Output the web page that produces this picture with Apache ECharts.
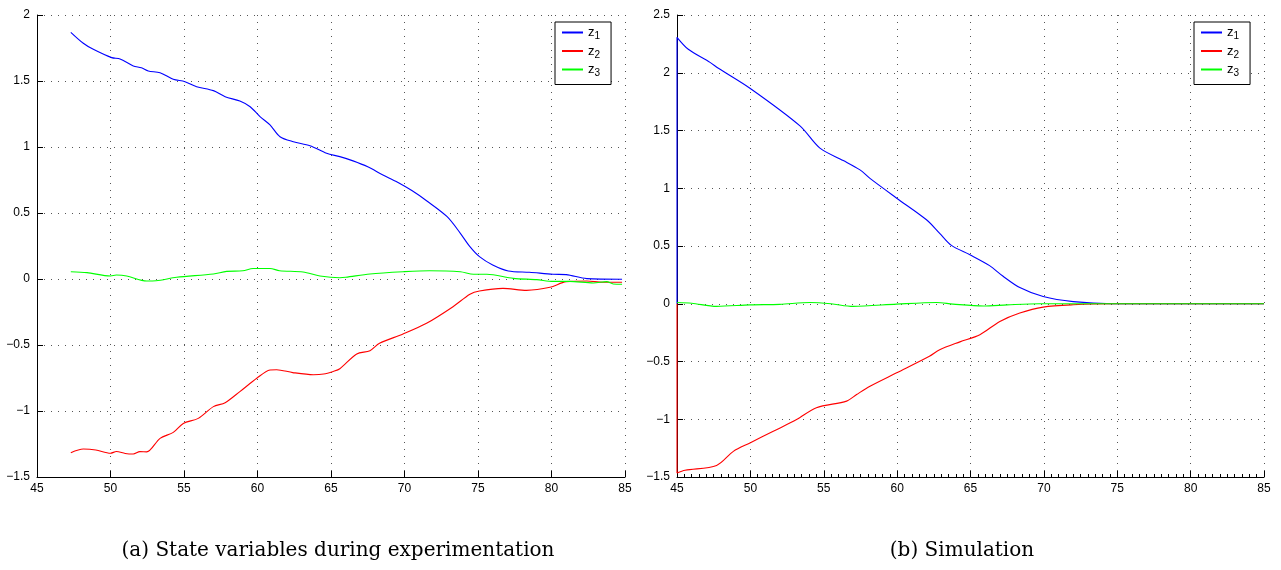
<!DOCTYPE html>
<html>
<head>
<meta charset="utf-8">
<script src="https://cdn.jsdelivr.net/npm/echarts@6/dist/echarts.min.js"></script>
<style>
  html, body { margin: 0; padding: 0; background: #fff; }
  #chart { width: 1281px; height: 570px; }
</style>
</head>
<body>
<div id="chart"></div>
<script>
// (a) experiment
var expT1 = [47.3, 48.15, 48.83, 50.08, 50.65, 51.55, 52.1, 52.57, 53.37, 54.27, 55.07, 55.86, 57.0, 57.8, 58.8, 59.5, 60.17, 60.85, 61.53, 62.44, 63.57, 64.7, 65.6, 66.5, 67.5, 68.5, 69.5, 70.5, 71.5, 72.9, 73.8, 74.45, 75.1, 76.0, 77.06, 78.5, 80.1, 81.0, 82.4, 84.8];
var expZ1 = [1.869, 1.786, 1.74, 1.677, 1.667, 1.614, 1.60, 1.576, 1.563, 1.513, 1.495, 1.457, 1.427, 1.381, 1.348, 1.305, 1.23, 1.167, 1.078, 1.04, 1.01, 0.952, 0.927, 0.895, 0.85, 0.79, 0.735, 0.67, 0.593, 0.472, 0.346, 0.245, 0.169, 0.106, 0.061, 0.051, 0.036, 0.033, 0.003, -0.002];

var expT2 = [47.3, 48.15, 49.0, 50.0, 50.4, 51.0, 51.55, 52.0, 52.46, 53.37, 54.27, 54.95, 55.97, 57.0, 57.8, 58.8, 59.95, 60.85, 61.3, 62.4, 63.8, 64.5, 65.15, 65.6, 66.75, 67.65, 68.3, 69.9, 71.5, 73.3, 74.45, 75.1, 76.7, 78.3, 79.9, 81.0, 82.4, 83.5, 84.8];
var expZ2 = [-1.316, -1.288, -1.295, -1.32, -1.307, -1.322, -1.326, -1.308, -1.31, -1.207, -1.162, -1.094, -1.056, -0.967, -0.937, -0.853, -0.752, -0.689, -0.687, -0.709, -0.725, -0.72, -0.70, -0.68, -0.568, -0.543, -0.487, -0.417, -0.336, -0.21, -0.116, -0.091, -0.071, -0.086, -0.063, -0.02, -0.015, -0.025, -0.025];

var expT3 = [47.3, 48.4, 50.0, 50.4, 51.1, 52.46, 53.1, 54.5, 57.0, 57.9, 59.0, 59.7, 60.85, 61.5, 63.1, 64.25, 65.6, 66.0, 67.65, 69.9, 71.7, 73.8, 74.7, 75.6, 77.4, 79.0, 80.1, 81.2, 82.85, 83.75, 84.2, 84.8];
var expZ3 = [0.055, 0.048, 0.023, 0.03, 0.023, -0.015, -0.013, 0.013, 0.038, 0.058, 0.062, 0.08, 0.08, 0.063, 0.053, 0.023, 0.01, 0.013, 0.038, 0.055, 0.063, 0.055, 0.036, 0.036, 0.005, -0.005, -0.018, -0.018, -0.03, -0.02, -0.038, -0.04];

// (b) simulation
var simT1 = [45, 45, 45.77, 47.25, 47.82, 49.97, 53.38, 54.74, 56.33, 57.47, 58.15, 59.97, 62.0, 62.9, 63.7, 64.96, 66.3, 67.2, 68.36, 69.95, 72.0, 74.7, 85];
var simZ1 = [0, 2.307, 2.203, 2.09, 2.039, 1.866, 1.54, 1.347, 1.24, 1.159, 1.085, 0.914, 0.727, 0.61, 0.505, 0.424, 0.33, 0.24, 0.14, 0.062, 0.018, 0.0, 0.0];

var simT2 = [45, 45, 45.55, 47.7, 48.84, 49.97, 51.56, 53.15, 54.5, 56.56, 57.24, 58.15, 59.97, 62.2, 62.9, 64.28, 65.64, 67.0, 68.36, 69.95, 72.0, 74.7, 85];
var simZ2 = [0, -1.465, -1.442, -1.40, -1.278, -1.205, -1.104, -1.003, -0.90, -0.843, -0.786, -0.714, -0.598, -0.455, -0.398, -0.33, -0.268, -0.153, -0.08, -0.029, -0.009, 0, 0];

var simT3 = [45, 46, 47.7, 49.97, 52, 54.06, 55.5, 57.0, 59.97, 62.7, 63.8, 65.87, 67.5, 69.7, 85];
var simZ3 = [0.011, 0.005, -0.023, -0.01, -0.005, 0.011, 0.0, -0.023, -0.003, 0.011, -0.003, -0.02, -0.01, 0, 0];

var names = ["z1", "z2", "z3"];
var colors = ["#0000ff", "#ff0000", "#00ff00"];

function zip(xs, ys) {
  return xs.map(function (x, i) { return [x, ys[i]]; });
}
function minus(v) {
  return String(v).replace("-", "\u2212");
}

var tickFont = { color: "#000", fontSize: 12, fontFamily: "Liberation Sans, Arial, sans-serif" };
var dotted = { show: true, lineStyle: { type: [1, 6], color: "#555", width: 1 } };

function xAx(idx, minor) {
  return {
    type: "value", gridIndex: idx, min: 45, max: 85, interval: 5,
    axisLine: { show: true, onZero: false, lineStyle: { color: "#000", width: 1 } },
    axisTick: { show: true, inside: true, length: 6, lineStyle: { color: "#000" } },
    minorTick: { show: minor, splitNumber: 10, length: 3, lineStyle: { color: "#000" } },
    axisLabel: Object.assign({ margin: 6, formatter: minus }, tickFont),
    splitLine: dotted
  };
}
function yAx(idx, min, max) {
  return {
    type: "value", gridIndex: idx, min: min, max: max, interval: 0.5,
    axisLine: { show: true, onZero: false, lineStyle: { color: "#000", width: 1 } },
    axisTick: { show: true, inside: true, length: 6, lineStyle: { color: "#000" } },
    axisLabel: Object.assign({ margin: 7, formatter: minus }, tickFont),
    splitLine: dotted
  };
}
function legendAt(x) {
  return {
    left: x, top: 22, orient: "vertical", data: names,
    icon: "rect", itemWidth: 21, itemHeight: 2, itemGap: 3,
    backgroundColor: "#fff", borderColor: "#000", borderWidth: 1, borderRadius: 0,
    padding: [4, 11, 6, 7],
    formatter: function (n) { return "{z|z}{s|" + n.slice(1) + "}"; },
    textStyle: {
      color: "#000",
      rich: {
        z: { fontSize: 13, fontFamily: "Liberation Sans, Arial, sans-serif", color: "#000" },
        s: { fontSize: 10, fontFamily: "Liberation Sans, Arial, sans-serif", color: "#000", padding: [8, 0, 0, 0] }
      }
    },
    selectedMode: false
  };
}

var series = [];
var expSets = [zip(expT1, expZ1), zip(expT2, expZ2), zip(expT3, expZ3)];
var simSets = [zip(simT1, simZ1), zip(simT2, simZ2), zip(simT3, simZ3)];
[expSets, simSets].forEach(function (sets, g) {
  sets.forEach(function (d, i) {
    series.push({
      name: names[i], type: "line", xAxisIndex: g, yAxisIndex: g,
      data: d, showSymbol: false, smooth: 0.3, animation: false,
      lineStyle: { color: colors[i], width: 1.1 }, itemStyle: { color: colors[i] }
    });
  });
});

var myChart = echarts.init(document.getElementById("chart"));
var option = {
  backgroundColor: "#fff",
  animation: false,
  grid: [
    { left: 37, top: 15, width: 588, height: 462 },
    { left: 677, top: 15, width: 587, height: 462 }
  ],
  xAxis: [xAx(0, false), xAx(1, true)],
  yAxis: [yAx(0, -1.5, 2), yAx(1, -1.5, 2.5)],
  legend: [legendAt(555), legendAt(1194)],
  graphic: [
    { type: "text", x: 338, y: 551, style: { text: "(a) State variables during experimentation", fontSize: 20, fontFamily: "DejaVu Serif, serif", fill: "#000", align: "center", verticalAlign: "middle" } },
    { type: "text", x: 962, y: 551, style: { text: "(b) Simulation", fontSize: 20, fontFamily: "DejaVu Serif, serif", fill: "#000", align: "center", verticalAlign: "middle" } }
  ],
  series: series
};
myChart.setOption(option);
</script>
</body>
</html>
